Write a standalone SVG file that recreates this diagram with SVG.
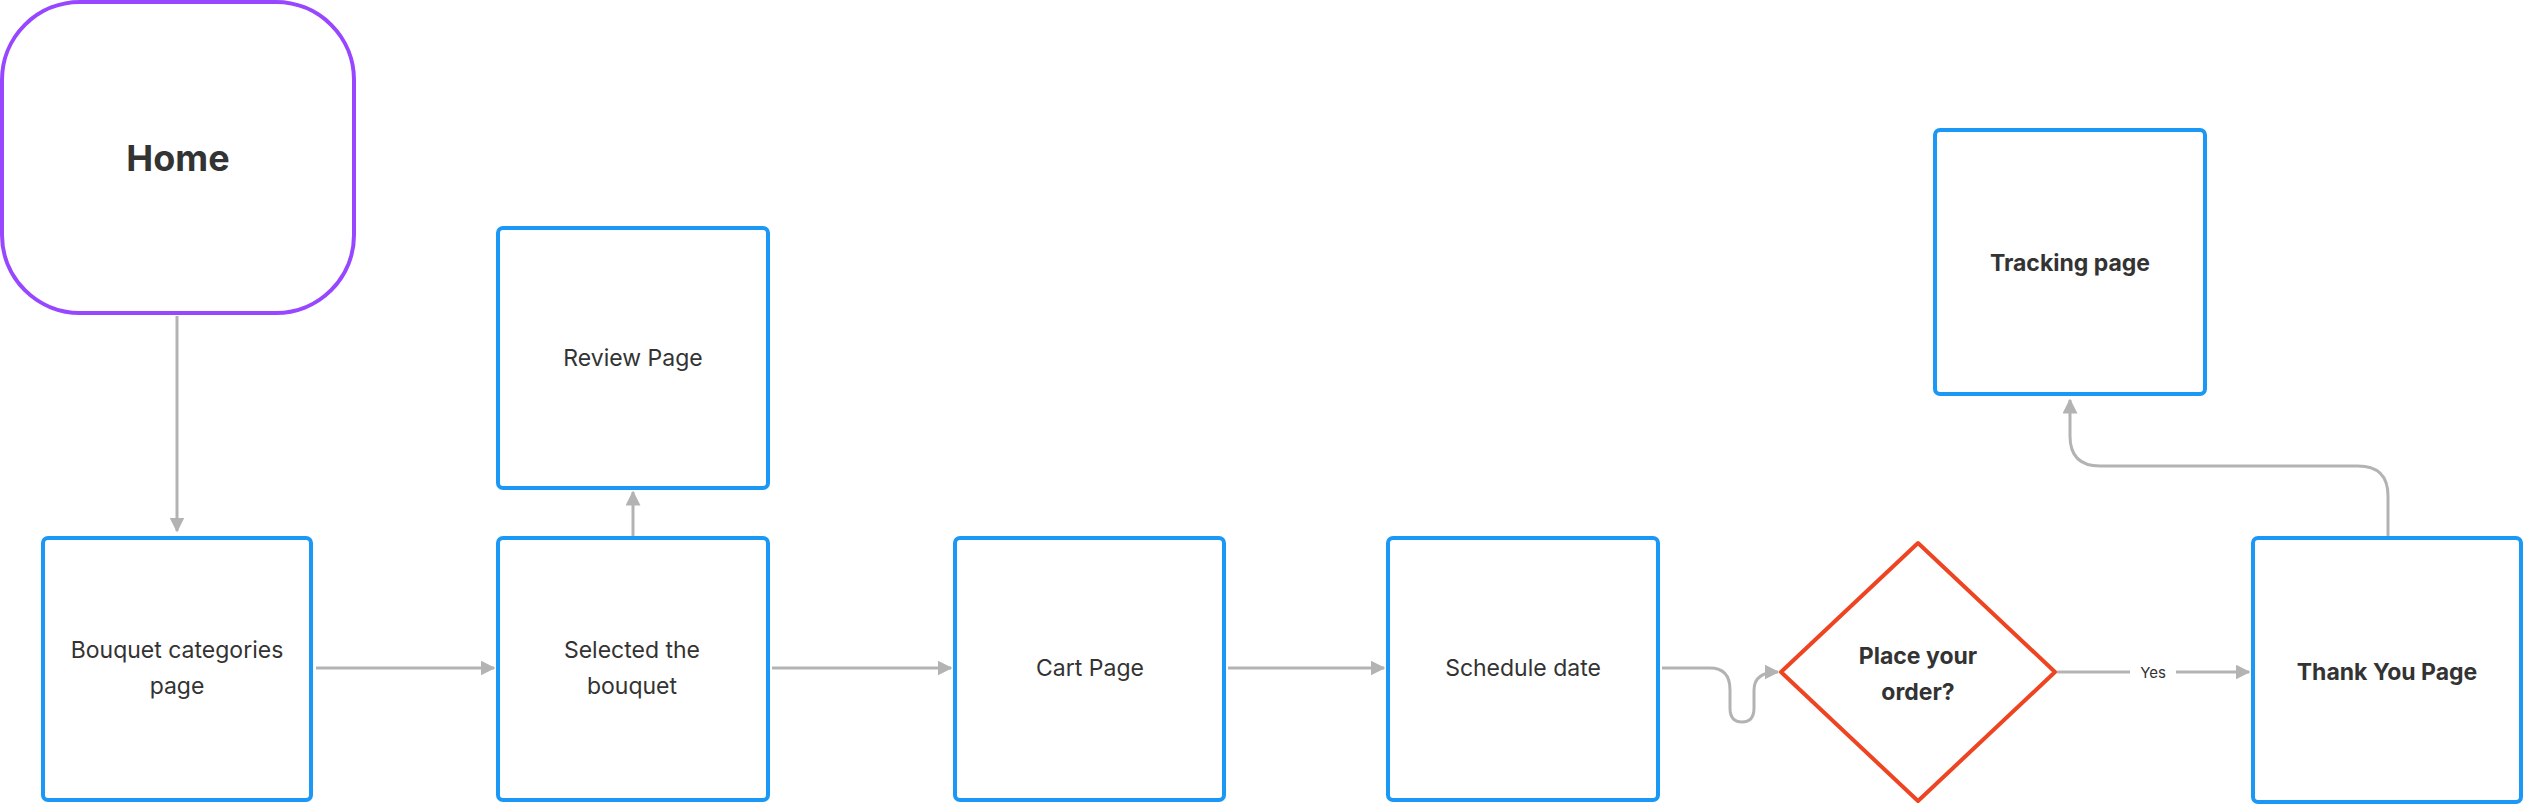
<svg xmlns="http://www.w3.org/2000/svg" width="2525" height="805" viewBox="0 0 2525 805">
<style>
.box{fill:#fff;stroke:#1b98f5;stroke-width:4}
.t{font-family:Inter,"Liberation Sans",sans-serif;font-size:23px;fill:#333;text-anchor:middle;dominant-baseline:central}
.b{font-weight:bold}
.c{fill:none;stroke:#b3b3b3;stroke-width:3}
</style>
<defs><marker id="a" viewBox="0 0 10 10" refX="9" refY="5" markerWidth="5" markerHeight="5" orient="auto" markerUnits="strokeWidth"><path d="M0 0L10 5L0 10z" fill="#b3b3b3"/></marker></defs>
<rect width="2525" height="805" fill="#fff"/>
<g id="connectors">
<path class="c" marker-end="url(#a)" d="M177 316V531"/>
<path class="c" marker-end="url(#a)" d="M316 668H494"/>
<path class="c" marker-end="url(#a)" d="M633 536V492"/>
<path class="c" marker-end="url(#a)" d="M772 668H951"/>
<path class="c" marker-end="url(#a)" d="M1228 668H1384"/>
<path class="c" marker-end="url(#a)" d="M1662 668H1710Q1730 668 1730 690V708Q1730 722 1742 722Q1754 722 1754 708V690Q1754 672 1778 672"/>
<path class="c" d="M2057 672H2130"/>
<path class="c" marker-end="url(#a)" d="M2176 672H2249"/>
<text class="t" x="2153" y="672" style="font-size:15px">Yes</text>
<path class="c" marker-end="url(#a)" d="M2388 537V496Q2388 466 2358 466H2100Q2070 466 2070 436V400"/>
</g>
<g id="home"><rect x="2" y="2" width="352" height="311" rx="78" fill="#fff" stroke="#9747ff" stroke-width="4"/><text class="t b" x="178" y="158" style="font-size:36px">Home</text></g>
<g id="bouquet"><rect class="box" x="43" y="538" width="268" height="262" rx="5"/><text class="t" x="177" y="650">Bouquet categories</text><text class="t" x="177" y="686">page</text></g>
<g id="selected"><rect class="box" x="498" y="538" width="270" height="262" rx="5"/><text class="t" x="632" y="650">Selected the</text><text class="t" x="632" y="686">bouquet</text></g>
<g id="review"><rect class="box" x="498" y="228" width="270" height="260" rx="5"/><text class="t" x="633" y="358">Review Page</text></g>
<g id="cart"><rect class="box" x="955" y="538" width="269" height="262" rx="5"/><text class="t" x="1090" y="668">Cart Page</text></g>
<g id="schedule"><rect class="box" x="1388" y="538" width="270" height="262" rx="5"/><text class="t" x="1523" y="668">Schedule date</text></g>
<g id="decision"><path d="M1918 543L2055 672L1918 801L1781 672Z" fill="#fff" stroke="#ee4422" stroke-width="4" stroke-linejoin="round"/><text class="t b" x="1918" y="656">Place your</text><text class="t b" x="1918" y="692">order?</text></g>
<g id="tracking"><rect class="box" x="1935" y="130" width="270" height="264" rx="5"/><text class="t b" x="2070" y="263">Tracking page</text></g>
<g id="thankyou"><rect class="box" x="2253" y="538" width="268" height="264" rx="5"/><text class="t b" x="2387" y="672">Thank You Page</text></g>
</svg>
